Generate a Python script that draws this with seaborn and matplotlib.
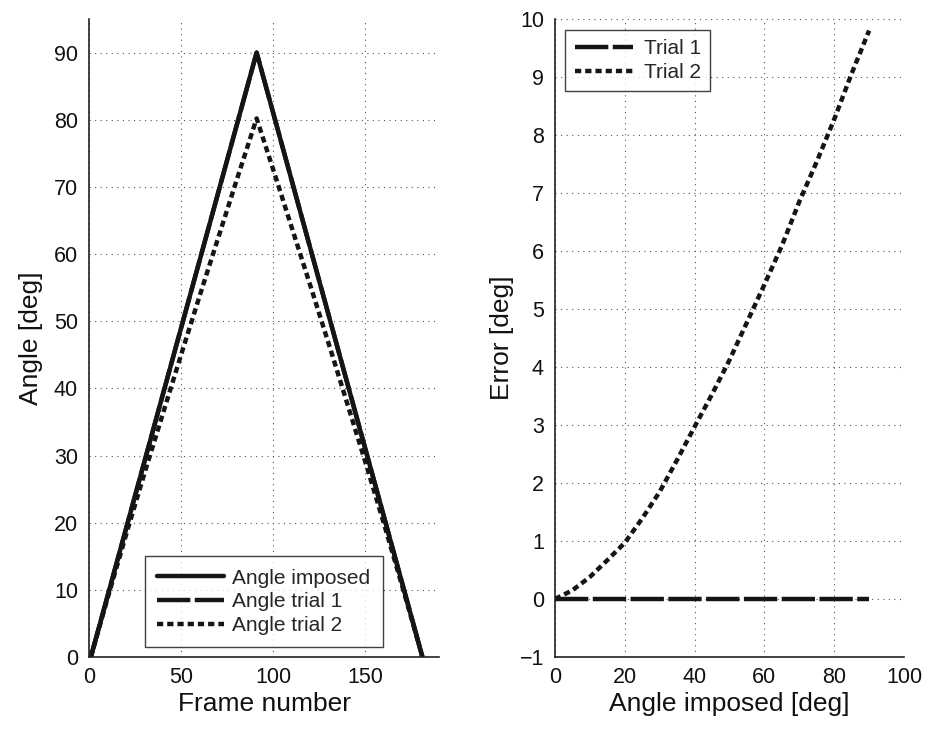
import numpy as np
import pandas as pd
import matplotlib
matplotlib.use("Agg")
import matplotlib.pyplot as plt
import seaborn as sns

# ---- data ----
frames = [1, 11, 21, 31, 41, 51, 61, 71, 81, 91, 101, 111, 121, 131, 141, 151, 161, 171, 181]
angle_imposed = [0, 10, 20, 30, 40, 50, 60, 70, 80, 90, 80, 70, 60, 50, 40, 30, 20, 10, 0]
angle_trial1 = [0, 10, 20, 30, 40, 50, 60, 70, 80, 90, 80, 70, 60, 50, 40, 30, 20, 10, 0]
angle_trial2 = [0, 9.62, 19.03, 28.15, 37.03, 45.88, 54.58, 63.15, 71.73, 80.2,
                71.73, 63.15, 54.58, 45.88, 37.03, 28.15, 19.03, 9.62, 0]

err_angle = [0, 5, 10, 15, 20, 25, 30, 35, 40, 45, 50, 55, 60, 65, 70, 75, 80, 85, 90]
err_trial1 = [0, 0, 0, 0, 0, 0, 0, 0, 0, 0, 0, 0, 0, 0, 0, 0, 0, 0, 0]
err_trial2 = [0, 0.15, 0.38, 0.67, 0.97, 1.39, 1.85, 2.40, 2.97, 3.53, 4.12, 4.77,
              5.42, 6.09, 6.85, 7.54, 8.27, 9.06, 9.8]

left_xticks = [0, 50, 100, 150]
left_yticks = [0, 10, 20, 30, 40, 50, 60, 70, 80, 90]
right_xticks = [0, 20, 40, 60, 80, 100]
right_yticks = [-1, 0, 1, 2, 3, 4, 5, 6, 7, 8, 9, 10]

# ---- style ----
sns.set_style("white")
plt.rcParams['font.family'] = ['Liberation Sans', 'DejaVu Sans']
plt.rcParams['xtick.direction'] = 'in'
plt.rcParams['ytick.direction'] = 'in'
plt.rcParams['axes.unicode_minus'] = True

W, H = 935, 730
fig = plt.figure(figsize=(W / 100, H / 100), dpi=100)

def px_axes(x0, x1, ytop, ybot):
    return fig.add_axes([x0 / W, 1 - ybot / H, (x1 - x0) / W, (ybot - ytop) / H])

ax1 = px_axes(89, 439, 19, 657)
ax2 = px_axes(555, 904, 19, 657)

LW = 3.2
DASH = (7.5, 1.0)
DOT = (1.4, 0.9)
INK = "#151515"

df1 = pd.DataFrame({"frame": frames, "imp": angle_imposed, "t1": angle_trial1, "t2": angle_trial2})
sns.lineplot(data=df1, x="frame", y="imp", ax=ax1, color=INK, lw=LW, label="Angle imposed")
sns.lineplot(data=df1, x="frame", y="t1", ax=ax1, color=INK, lw=LW, label="Angle trial 1")
ax1.lines[-1].set_dashes(DASH)
sns.lineplot(data=df1, x="frame", y="t2", ax=ax1, color=INK, lw=LW, label="Angle trial 2")
ax1.lines[-1].set_dashes(DOT)

df2 = pd.DataFrame({"ang": err_angle, "e1": err_trial1, "e2": err_trial2})
sns.lineplot(data=df2, x="ang", y="e1", ax=ax2, color=INK, lw=LW, label="Trial 1")
ax2.lines[-1].set_dashes(DASH)
sns.lineplot(data=df2, x="ang", y="e2", ax=ax2, color=INK, lw=LW, label="Trial 2")
ax2.lines[-1].set_dashes(DOT)

for ax in (ax1, ax2):
    ax.spines['top'].set_visible(False)
    ax.spines['right'].set_visible(False)
    for s in ('left', 'bottom'):
        ax.spines[s].set_color('#222222')
        ax.spines[s].set_linewidth(1.2)
    ax.grid(True, linestyle=(0, (1, 4)), color='#555555', linewidth=0.8)
    ax.tick_params(axis='both', labelsize=15.5, length=5, width=1, color='#222222',
                   labelcolor='#111111')
    ax.tick_params(axis='x', pad=7)
    ax.tick_params(axis='y', pad=8)

ax1.set_xlim(0, 190)
ax1.set_ylim(0, 95)
ax1.set_xticks(left_xticks)
ax1.set_yticks(left_yticks)
ax1.set_xlabel("Frame number", fontsize=19, labelpad=3, color='#111111')
ax1.set_ylabel("Angle [deg]", fontsize=19, labelpad=8, color='#111111')

ax2.set_xlim(0, 100)
ax2.set_ylim(-1, 10)
ax2.set_xticks(right_xticks)
ax2.set_yticks(right_yticks)
ax2.set_xlabel("Angle imposed [deg]", fontsize=19, labelpad=3, color='#111111')
ax2.set_ylabel("Error [deg]", fontsize=19, labelpad=4, color='#111111')

leg1 = ax1.legend(loc='lower center', bbox_to_anchor=(0.5, 0.015), fontsize=15,
                  frameon=True, fancybox=False, edgecolor='#111111', handlelength=3.2,
                  borderpad=0.6, labelspacing=0.22, handletextpad=0.4, borderaxespad=0)
leg1.get_frame().set_linewidth(1.0)
leg2 = ax2.legend(loc='upper left', bbox_to_anchor=(0.03, 0.983), fontsize=15,
                  frameon=True, fancybox=False, edgecolor='#111111', handlelength=2.8,
                  borderpad=0.45, labelspacing=0.22, handletextpad=0.5, borderaxespad=0)
leg2.get_frame().set_linewidth(1.0)

fig.savefig("out.png", dpi=100)
